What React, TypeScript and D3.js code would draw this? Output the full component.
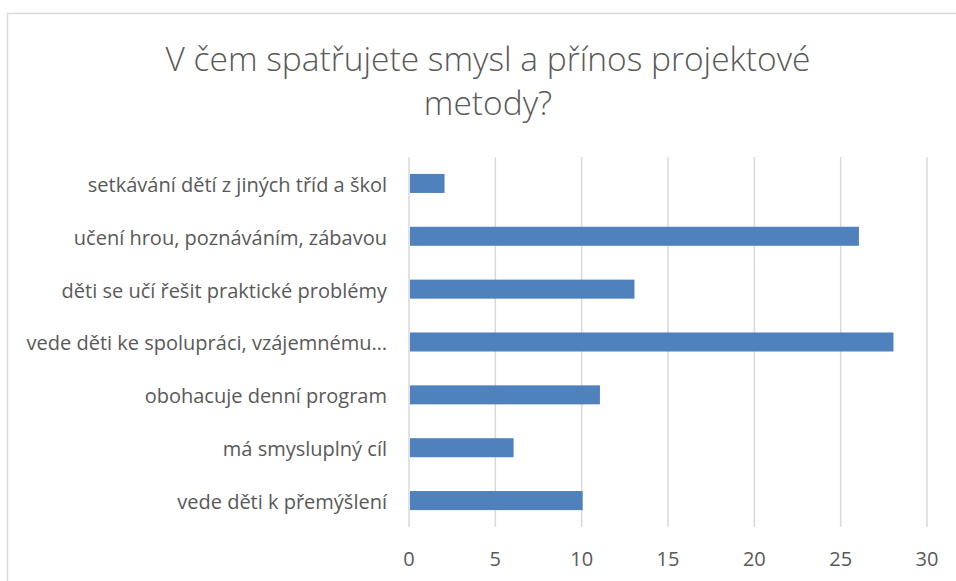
import { useEffect, useRef } from 'react';
import * as d3 from 'd3';

const title = ['V čem spatřujete smysl a přínos projektové', 'metody?'];
const categories = [
  'setkávání dětí z jiných tříd a škol',
  'učení hrou, poznáváním, zábavou',
  'děti se učí řešit praktické problémy',
  'vede děti ke spolupráci, vzájemnému…',
  'obohacuje denní program',
  'má smysluplný cíl',
  'vede děti k přemýšlení',
];
const values = [2, 26, 13, 28, 11, 6, 10];
const xTicks = [0, 5, 10, 15, 20, 25, 30];

const FONT = '"Open Sans", sans-serif';
const TEXT = '#595959';

export default function App() {
  const svgRef = useRef<SVGSVGElement>(null);

  useEffect(() => {
    const el = svgRef.current;
    if (!el) return;
    const svg = d3.select(el);
    svg.selectAll('*').remove();

    const plot = { left: 409, right: 927, top: 157, bottom: 527 };

    // chart border
    svg.append('rect')
      .attr('x', 7.5).attr('y', 13.5)
      .attr('width', 1000).attr('height', 1000)
      .attr('fill', '#fff')
      .attr('stroke', '#d9d9d9')
      .attr('stroke-width', 1.5);

    // title
    svg.append('text')
      .attr('x', 488).attr('text-anchor', 'middle')
      .attr('fill', TEXT)
      .attr('font-family', FONT)
      .attr('font-weight', 300)
      .attr('font-size', '33.5px')
      .selectAll('tspan')
      .data(title)
      .join('tspan')
      .attr('x', 488)
      .attr('y', (_, i) => 71 + i * 44)
      .text((d) => d);

    const x = d3.scaleLinear().domain([0, 30]).range([plot.left, plot.right]);
    const y = d3.scaleBand<string>()
      .domain(categories)
      .range([plot.top, plot.bottom])
      .paddingInner(0.64)
      .paddingOuter(0.32);

    // gridlines
    svg.append('g')
      .selectAll('line')
      .data(xTicks)
      .join('line')
      .attr('x1', (d) => x(d)).attr('x2', (d) => x(d))
      .attr('y1', plot.top).attr('y2', plot.bottom)
      .attr('stroke', '#d9d9d9')
      .attr('stroke-width', 1.5);

    // bars
    svg.append('g')
      .selectAll('rect')
      .data(values)
      .join('rect')
      .attr('x', x(0) + 1)
      .attr('y', (_, i) => y(categories[i])!)
      .attr('width', (d) => x(d) - x(0))
      .attr('height', y.bandwidth())
      .attr('fill', '#4f81bd');

    // x tick labels
    svg.append('g')
      .selectAll('text')
      .data(xTicks)
      .join('text')
      .attr('x', (d) => x(d))
      .attr('y', 566)
      .attr('text-anchor', 'middle')
      .attr('fill', TEXT)
      .attr('font-family', FONT)
      .attr('font-size', '20px')
      .text((d) => d);

    // category labels
    svg.append('g')
      .selectAll('text')
      .data(categories)
      .join('text')
      .attr('x', 387)
      .attr('y', (d) => y(d)! + y.bandwidth() / 2)
      .attr('dy', '0.42em')
      .attr('text-anchor', 'end')
      .attr('fill', TEXT)
      .attr('font-family', FONT)
      .attr('font-size', '20px')
      .text((d) => d);
  }, []);

  return (
    <svg
      ref={svgRef}
      width={956}
      height={581}
      style={{ position: 'fixed', left: 0, top: 0, background: '#fff' }}
    />
  );
}
